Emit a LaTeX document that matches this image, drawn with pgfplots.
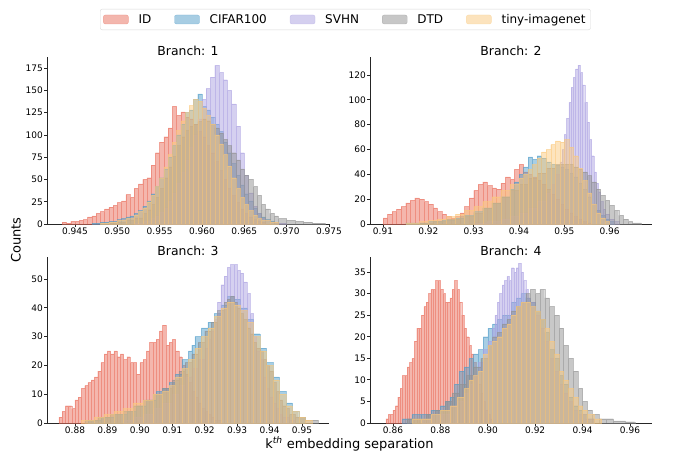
\documentclass[border=0pt]{standalone}
\usepackage{fontspec}
\setmainfont{DejaVu Sans}
\usepackage{pgfplots}
\pgfplotsset{compat=1.18}

\definecolor{idc}{RGB}{233,110,92}
\definecolor{cifc}{RGB}{81,157,201}
\definecolor{svhc}{RGB}{171,161,225}
\definecolor{dtdc}{RGB}{145,145,145}
\definecolor{tinc}{RGB}{251,201,125}

\pgfplotsset{
  hpanel/.style={
    scale only axis, width=282pt, anchor=south west,
    axis x line*=bottom, axis y line*=left,
    axis line style={-, line width=0.8pt, black!85},
    tick align=outside, major tick length=3pt,
    tick style={line width=0.8pt, black!85},
    ymin=0, scaled x ticks=false, scaled y ticks=false,
    tick label style={font=\fontsize{9}{10}\selectfont, inner sep=1pt,
      /pgf/number format/assume math mode=true},
    every axis title shift=0pt,
    title style={font=\fontsize{12.4}{14}\selectfont, at={(0.5,1)},
      anchor=base, yshift=1.5pt},
    every axis plot/.append style={ybar interval, fill opacity=0.5,
      draw opacity=0.55, line width=0.35pt},
  },
}

\begin{document}
\begin{tikzpicture}
\useasboundingbox (0,0) rectangle (673pt,451pt);

% ---------------- Branch 1 ----------------
\begin{axis}[hpanel, at={(47pt,227pt)}, height=167pt,
  title={Branch: 1},
  xmin=0.9417, xmax=0.975, ymax=187.5,
  xtick={0.945,0.95,0.955,0.96,0.965,0.97,0.975},
  xticklabel style={/pgf/number format/.cd, fixed, fixed zerofill, precision=3},
  ytick={0,25,50,75,100,125,150,175},
  legend columns=5,
  legend image code/.code={\fill[#1] (0pt,-4.5pt) rectangle (25pt,4.5pt);},
  legend style={at={(1.058,1.2246)}, anchor=center, draw=black!15,
    rounded corners=2pt, font=\fontsize{12}{14}\selectfont,
    inner xsep=3pt, inner ysep=3pt,
    /tikz/every odd column/.append style={column sep=8pt},
    /tikz/every even column/.append style={column sep=21pt}},
]
\addplot[fill=idc, draw=idc] coordinates {
(0.9435,2)(0.9440,1)(0.9445,3)(0.9450,3)(0.9455,4)(0.9460,5)(0.9465,8)(0.9470,9)
(0.9475,12)(0.9480,14)(0.9485,17)(0.9490,19)(0.9495,21)(0.9500,24)(0.9505,26)
(0.9510,33)(0.9515,30)(0.9520,40)(0.9525,45)(0.9530,50)(0.9535,52)(0.9540,66)
(0.9545,80)(0.9550,92)(0.9555,98)(0.9560,108)(0.9565,132)(0.9570,122)(0.9575,126)
(0.9580,120)(0.9585,118)(0.9590,112)(0.9595,104)(0.9600,98)(0.9605,88)(0.9610,80)
(0.9615,70)(0.9620,60)(0.9625,50)(0.9630,40)(0.9635,32)(0.9640,24)(0.9645,17)
(0.9650,12)(0.9655,8)(0.9660,5)(0.9665,3)(0.9670,2)(0.9675,0)};
\addlegendentry{ID}
\addplot[fill=cifc, draw=cifc] coordinates {
(0.9470,1)(0.9480,2)(0.9490,3)(0.9500,5)(0.9505,6)(0.9510,8)(0.9515,9)(0.9520,12)
(0.9525,15)(0.9530,20)(0.9535,26)(0.9540,34)(0.9545,42)(0.9550,52)(0.9555,62)
(0.9560,75)(0.9565,88)(0.9570,100)(0.9575,112)(0.9580,125)(0.9585,128)(0.9590,140)
(0.9595,146)(0.9600,132)(0.9605,128)(0.9610,120)(0.9615,112)(0.9620,104)(0.9625,92)
(0.9630,80)(0.9635,68)(0.9640,55)(0.9645,44)(0.9650,34)(0.9655,26)(0.9660,18)
(0.9665,12)(0.9670,8)(0.9675,5)(0.9680,3)(0.9685,1)(0.9690,0)};
\addlegendentry{CIFAR100}
\addplot[fill=svhc, draw=svhc] coordinates {
(0.9520,1)(0.9530,3)(0.9540,6)(0.9545,9)(0.9550,13)(0.9555,18)(0.9560,26)(0.9565,35)
(0.9570,46)(0.9575,58)(0.9580,72)(0.9585,86)(0.9590,100)(0.9595,118)(0.9600,140)
(0.9605,152)(0.9610,165)(0.9615,178)(0.9620,170)(0.9625,162)(0.9630,150)(0.9635,135)
(0.9640,110)(0.9645,80)(0.9650,55)(0.9655,35)(0.9660,20)(0.9665,12)(0.9670,6)
(0.9675,4)(0.9680,2)(0.9690,1)(0.9700,0)};
\addlegendentry{SVHN}
\addplot[fill=dtdc, draw=dtdc] coordinates {
(0.9490,1)(0.9500,2)(0.9510,4)(0.9520,7)(0.9530,12)(0.9535,16)(0.9540,22)(0.9545,30)
(0.9550,40)(0.9555,52)(0.9560,64)(0.9565,76)(0.9570,88)(0.9575,98)(0.9580,105)
(0.9585,110)(0.9590,112)(0.9595,115)(0.9600,118)(0.9605,116)(0.9610,112)(0.9615,108)
(0.9620,102)(0.9625,95)(0.9630,88)(0.9635,80)(0.9640,72)(0.9645,62)(0.9650,55)
(0.9655,50)(0.9660,42)(0.9665,32)(0.9670,22)(0.9675,17)(0.9680,12)(0.9685,9)
(0.9690,6)(0.9700,4)(0.9710,3)(0.9720,2)(0.9730,1)(0.9745,0)};
\addlegendentry{DTD}
\addplot[fill=tinc, draw=tinc] coordinates {
(0.9480,1)(0.9490,2)(0.9500,4)(0.9510,6)(0.9520,10)(0.9525,14)(0.9530,18)(0.9535,25)
(0.9540,32)(0.9545,42)(0.9550,52)(0.9555,64)(0.9560,78)(0.9565,92)(0.9570,105)
(0.9575,116)(0.9580,125)(0.9585,133)(0.9590,140)(0.9595,138)(0.9600,130)(0.9605,122)
(0.9610,112)(0.9615,100)(0.9620,90)(0.9625,78)(0.9630,65)(0.9635,52)(0.9640,40)
(0.9645,30)(0.9650,22)(0.9655,15)(0.9660,10)(0.9665,6)(0.9670,4)(0.9680,2)
(0.9690,0)};
\addlegendentry{tiny-imagenet}
\end{axis}

% ---------------- Branch 2 ----------------
\begin{axis}[hpanel, at={(370pt,227pt)}, height=167pt,
  title={Branch: 2},
  xmin=0.90713, xmax=0.96934, ymax=134.5,
  xtick={0.91,0.92,0.93,0.94,0.95,0.96,0.97},
  xticklabel style={/pgf/number format/.cd, fixed, fixed zerofill, precision=2},
  ytick={0,20,40,60,80,100,120},
]
\addplot[fill=idc, draw=idc] coordinates {
(0.910,5)(0.911,8)(0.912,10)(0.913,12)(0.914,14)(0.915,17)(0.916,19)(0.917,21)
(0.918,20)(0.919,18)(0.920,16)(0.921,13)(0.922,10)(0.923,8)(0.924,6)(0.925,5)
(0.926,6)(0.927,9)(0.928,14)(0.929,21)(0.930,27)(0.931,32)(0.932,34)(0.933,31)
(0.934,29)(0.935,28)(0.936,33)(0.937,38)(0.938,36)(0.939,44)(0.940,48)(0.941,42)
(0.942,40)(0.943,38)(0.944,35)(0.945,32)(0.946,28)(0.947,24)(0.948,20)(0.949,16)
(0.950,12)(0.951,9)(0.952,6)(0.953,4)(0.954,2)(0.955,1)(0.956,0)};
\addplot[fill=cifc, draw=cifc] coordinates {
(0.915,1)(0.920,2)(0.923,3)(0.926,5)(0.928,7)(0.930,10)(0.932,13)(0.934,17)
(0.936,22)(0.938,28)(0.939,34)(0.940,40)(0.941,46)(0.942,54)(0.943,52)(0.944,55)
(0.945,53)(0.946,50)(0.947,48)(0.948,47)(0.949,46)(0.950,44)(0.951,41)(0.952,38)
(0.953,33)(0.954,28)(0.955,22)(0.956,16)(0.957,11)(0.958,7)(0.959,4)(0.960,2)
(0.961,0)};
\addplot[fill=svhc, draw=svhc] coordinates {
(0.930,1)(0.933,2)(0.936,4)(0.938,6)(0.940,9)(0.942,13)(0.944,18)(0.946,25)
(0.947,32)(0.948,40)(0.949,50)(0.9495,60)(0.9500,72)(0.9505,85)(0.9510,98)
(0.9515,110)(0.9520,118)(0.9525,125)(0.9530,128)(0.9535,122)(0.9540,112)
(0.9545,98)(0.9550,82)(0.9555,68)(0.9560,55)(0.9565,42)(0.9570,33)(0.9575,26)
(0.9580,18)(0.9585,12)(0.9590,8)(0.9600,4)(0.9610,2)(0.9620,0)};
\addplot[fill=dtdc, draw=dtdc] coordinates {
(0.918,1)(0.921,2)(0.924,4)(0.927,6)(0.930,9)(0.932,13)(0.934,17)(0.936,22)
(0.938,27)(0.940,32)(0.942,37)(0.944,41)(0.946,45)(0.948,48)(0.950,48)(0.952,46)
(0.953,44)(0.954,42)(0.955,39)(0.956,34)(0.957,28)(0.958,23)(0.959,19)(0.960,15)
(0.961,11)(0.962,7)(0.963,4)(0.964,2)(0.965,1)(0.967,0)};
\addplot[fill=tinc, draw=tinc] coordinates {
(0.915,1)(0.918,2)(0.920,3)(0.922,4)(0.924,6)(0.926,8)(0.928,11)(0.930,14)
(0.932,18)(0.934,22)(0.936,27)(0.938,32)(0.940,37)(0.941,40)(0.942,44)(0.943,48)
(0.944,53)(0.945,58)(0.946,60)(0.947,64)(0.948,67)(0.949,66)(0.950,68)(0.951,62)
(0.952,55)(0.953,45)(0.954,35)(0.955,25)(0.956,16)(0.957,9)(0.958,5)(0.959,2)
(0.960,0)};
\end{axis}

% ---------------- Branch 3 ----------------
\begin{axis}[hpanel, at={(47pt,28pt)}, height=166.5pt,
  title={Branch: 3},
  xmin=0.87137, xmax=0.95833, ymax=57.8,
  xtick={0.88,0.89,0.90,0.91,0.92,0.93,0.94,0.95},
  xticklabel style={/pgf/number format/.cd, fixed, fixed zerofill, precision=2},
  ytick={0,10,20,30,40,50},
]
\addplot[fill=idc, draw=idc] coordinates {
(0.875,2)(0.876,4)(0.877,6)(0.878,6)(0.879,5)(0.880,8)(0.881,9)(0.882,12)(0.883,13)
(0.884,14)(0.885,15)(0.886,16)(0.887,18)(0.888,21)(0.889,24)(0.890,25)(0.891,24)
(0.892,25)(0.893,23)(0.894,24)(0.895,22)(0.896,23)(0.897,21)(0.898,21)(0.899,17)
(0.900,21)(0.901,22)(0.902,25)(0.903,28)(0.904,28)(0.905,29)(0.906,32)(0.907,34)
(0.908,27)(0.909,28)(0.910,29)(0.911,25)(0.912,23)(0.913,20)(0.914,17)(0.915,14)
(0.916,11)(0.917,9)(0.918,7)(0.919,5)(0.920,4)(0.921,3)(0.922,2)(0.923,1)
(0.925,0)};
\addplot[fill=cifc, draw=cifc] coordinates {
(0.884,1)(0.888,2)(0.892,3)(0.896,4)(0.899,6)(0.902,8)(0.905,11)(0.907,12)(0.909,14)
(0.911,17)(0.913,22)(0.915,25)(0.916,27)(0.917,30)(0.919,33)(0.921,35)(0.923,38)
(0.925,41)(0.927,44)(0.929,43)(0.931,40)(0.933,36)(0.935,31)(0.937,26)(0.939,21)
(0.941,16)(0.943,11)(0.945,7)(0.947,4)(0.949,2)(0.951,0)};
\addplot[fill=svhc, draw=svhc] coordinates {
(0.895,1)(0.898,2)(0.901,3)(0.904,5)(0.907,7)(0.910,10)(0.912,13)(0.914,16)
(0.916,19)(0.918,22)(0.920,26)(0.921,29)(0.922,32)(0.923,36)(0.924,42)(0.925,48)
(0.926,51)(0.927,54)(0.928,55)(0.929,55)(0.930,53)(0.931,52)(0.932,49)(0.933,45)
(0.934,38)(0.935,30)(0.936,25)(0.937,22)(0.938,16)(0.939,12)(0.940,9)(0.941,7)
(0.942,5)(0.943,3)(0.944,2)(0.946,1)(0.948,0)};
\addplot[fill=dtdc, draw=dtdc] coordinates {
(0.883,1)(0.887,2)(0.891,3)(0.895,4)(0.898,6)(0.901,8)(0.904,10)(0.907,12)(0.910,15)
(0.912,18)(0.914,21)(0.916,24)(0.918,28)(0.920,32)(0.922,35)(0.924,39)(0.926,42)
(0.927,43)(0.928,44)(0.929,42)(0.930,40)(0.931,38)(0.932,36)(0.933,33)(0.934,31)
(0.935,28)(0.936,26)(0.937,25)(0.938,22)(0.939,20)(0.940,18)(0.941,14)(0.942,11)
(0.943,8)(0.944,6)(0.945,5)(0.946,3)(0.948,2)(0.951,1)(0.955,0)};
\addplot[fill=tinc, draw=tinc] coordinates {
(0.882,1)(0.886,2)(0.889,3)(0.892,4)(0.895,5)(0.898,7)(0.901,8)(0.904,10)(0.907,11)
(0.909,13)(0.911,16)(0.913,19)(0.915,22)(0.917,26)(0.919,30)(0.921,33)(0.923,37)
(0.925,40)(0.927,42)(0.929,41)(0.931,39)(0.933,35)(0.935,30)(0.937,25)(0.939,20)
(0.941,15)(0.943,10)(0.945,6)(0.947,4)(0.949,2)(0.951,1)(0.953,0)};
\end{axis}

% ---------------- Branch 4 ----------------
\begin{axis}[hpanel, at={(370pt,28pt)}, height=166.5pt,
  title={Branch: 4},
  xmin=0.8503, xmax=0.96928, ymax=38.6,
  xtick={0.86,0.88,0.90,0.92,0.94,0.96},
  xticklabel style={/pgf/number format/.cd, fixed, fixed zerofill, precision=2},
  ytick={0,5,10,15,20,25,30,35},
]
\addplot[fill=idc, draw=idc] coordinates {
(0.857,1)(0.858,2)(0.859,2)(0.860,3)(0.861,4)(0.862,6)(0.863,8)(0.864,11)(0.865,11)
(0.866,13)(0.867,14)(0.868,15)(0.869,19)(0.870,22)(0.871,22)(0.872,25)(0.873,27)
(0.874,28)(0.875,30)(0.876,31)(0.877,31)(0.878,33)(0.879,33)(0.880,31)(0.881,30)
(0.882,28)(0.883,28)(0.884,29)(0.885,31)(0.886,33)(0.887,31)(0.888,28)(0.889,25)
(0.890,22)(0.891,20)(0.892,18)(0.893,16)(0.894,14)(0.895,11)(0.896,9)(0.897,7)
(0.898,5)(0.899,3)(0.900,2)(0.901,1)(0.902,0)};
\addplot[fill=cifc, draw=cifc] coordinates {
(0.864,1)(0.868,2)(0.872,2)(0.876,3)(0.880,4)(0.882,5)(0.884,6)(0.886,9)(0.888,12)
(0.890,13)(0.892,15)(0.894,16)(0.896,17)(0.898,20)(0.900,22)(0.902,23)(0.904,24)
(0.906,25)(0.908,25)(0.910,28)(0.912,29)(0.914,30)(0.916,29)(0.918,28)(0.920,26)
(0.922,24)(0.924,21)(0.926,17)(0.928,15)(0.930,11)(0.932,9)(0.934,6)(0.936,4)
(0.938,3)(0.940,2)(0.942,1)(0.945,0)};
\addplot[fill=svhc, draw=svhc] coordinates {
(0.872,1)(0.876,2)(0.880,2)(0.884,4)(0.887,5)(0.890,7)(0.892,9)(0.894,11)(0.896,14)
(0.898,17)(0.900,19)(0.902,22)(0.903,25)(0.904,28)(0.905,30)(0.906,32)(0.907,33)
(0.908,34)(0.909,33)(0.910,36)(0.911,35)(0.912,36)(0.913,37)(0.914,35)(0.915,33)
(0.916,31)(0.917,29)(0.918,28)(0.920,25)(0.922,22)(0.924,19)(0.926,15)(0.928,12)
(0.930,9)(0.932,7)(0.934,5)(0.936,3)(0.938,2)(0.941,1)(0.945,0)};
\addplot[fill=dtdc, draw=dtdc] coordinates {
(0.866,1)(0.870,1)(0.874,2)(0.878,3)(0.882,5)(0.885,7)(0.888,9)(0.891,11)(0.894,13)
(0.897,15)(0.900,18)(0.902,20)(0.904,21)(0.906,23)(0.908,24)(0.910,26)(0.912,27)
(0.914,28)(0.916,30)(0.918,31)(0.920,30)(0.922,31)(0.924,29)(0.926,27)(0.928,25)
(0.930,22)(0.932,18)(0.934,15)(0.936,12)(0.938,8)(0.940,5)(0.942,3)(0.944,2)
(0.947,1)(0.950,1)(0.953,0.5)(0.958,0.3)(0.962,0)};
\addplot[fill=tinc, draw=tinc] coordinates {
(0.868,1)(0.872,1)(0.876,2)(0.880,3)(0.884,4)(0.887,6)(0.890,8)(0.892,10)(0.894,11)
(0.896,12)(0.898,16)(0.900,18)(0.902,19)(0.904,20)(0.906,22)(0.908,23)(0.910,25)
(0.912,27)(0.914,28)(0.916,28)(0.918,27)(0.920,26)(0.922,24)(0.924,22)(0.926,19)
(0.928,16)(0.930,12)(0.932,10)(0.934,8)(0.936,6)(0.938,4)(0.940,3)(0.942,2)
(0.945,1)(0.948,0)};
\end{axis}

\node[font=\fontsize{13}{15}\selectfont, anchor=base] at (349.5pt,3pt)
  {k\textsuperscript{\textit{th}} embedding separation};
\node[font=\fontsize{13}{15}\selectfont, rotate=90] at (16pt,211pt) {Counts};
\end{tikzpicture}
\end{document}
